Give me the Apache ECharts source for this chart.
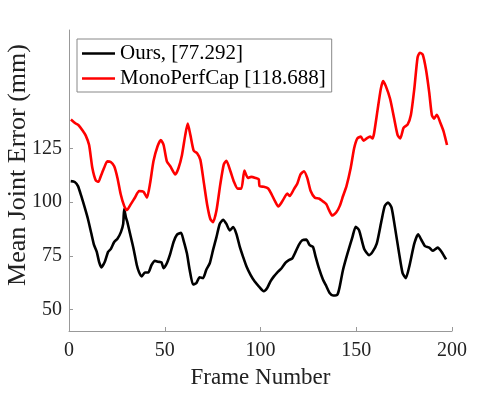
<!DOCTYPE html>
<html>
<head>
<meta charset="utf-8">
<script src="https://cdn.jsdelivr.net/npm/echarts@6/dist/echarts.min.js"></script>
<style>
  html, body { margin: 0; padding: 0; background: #fff; }
  #chart { width: 498px; height: 394px; }
</style>
</head>
<body>
<div id="chart"></div>
<script>
// legend labels
const seriesNames = ['Ours, [77.292]', 'MonoPerfCap [118.688]'];

// Ours (black)
const oursFrames = [0.9, 3, 4.7, 6.4, 8.2, 9.9, 11.7, 13.1, 14.5, 15.7, 16.9, 18.7, 20.4, 21.8, 23.6, 25.3, 27.1, 28.3, 28.8, 29.7,
  30.5, 31.9, 33.7, 35.4, 36.6, 38, 39.6, 41.4, 43.1, 44.9, 46.6, 48.3, 49.4, 51.1, 52.9, 54.6, 56.4, 58.5, 59.8, 61.6,
  63, 64.8, 66.5, 68.2, 70, 71.7, 73.5, 75.2, 77, 78.7, 80.5, 82.2, 83.9, 85.7, 87.4, 89.2, 90.9, 92.7, 94.8, 96.9,
  99.1, 101.7, 103.5, 105.2, 107, 108.7, 111, 113.1, 114.8, 116.6, 118.3, 120.1, 121.8, 123.9, 125.7, 127.4, 128.8, 130.5, 132.6, 134.4,
  136.1, 137.9, 140.2, 141.4, 143.1, 145.4, 148, 149.7, 151.5, 154.1, 156.7, 158.5, 160.7, 163.2, 164.9, 166.6, 168.4, 170.2, 172.4, 174.2,
  175.9, 177.7, 180.3, 182.3, 184.1, 185.9, 188.1, 189.9, 192.5, 194.6, 196.9];
const oursErr = [109.7, 109.3, 107.4, 102.8, 97.5, 92.1, 85.2, 79.9, 76.8, 72.2, 69.6, 72.2, 76.8, 78.1, 81.4, 82.9, 86, 89.8, 96.7, 92.9,
  90.6, 85.2, 78.3, 70.7, 67.3, 65.4, 67.2, 67.2, 70.7, 72.6, 72.2, 71.9, 69.2, 71.5, 76, 81.4, 84.8, 85.7, 82.2, 76,
  68.5, 61.6, 62.3, 65, 64.6, 68.5, 71.5, 77.6, 83.7, 89.8, 91.7, 89.8, 86.8, 88.3, 85.2, 79.1, 74.5, 70, 66.1, 63.1,
  60.8, 58.5, 60, 63.1, 65.4, 67.2, 69.2, 71.8, 73, 73.8, 76.8, 80.2, 82.2, 82.5, 79.9, 79.1, 74.5, 69.2, 63.9, 60.8,
  57.7, 56.5, 57, 60.8, 68.5, 76, 83.7, 88.5, 86.8, 78.3, 75.3, 76.8, 80.6, 91.4, 98.2, 99.8, 97.5, 88.3, 76, 66.9,
  64.6, 70, 80.6, 85, 82.2, 79.5, 78.8, 77.3, 78.8, 76.8, 73.3];

// MonoPerfCap (red)
const monoFrames = [1, 3.5, 5, 7, 8.7, 10.5, 12.2, 14, 15.4, 16.6, 18.3, 20, 21.8, 23.6, 25.3, 27, 28.8, 30.2, 32.3, 34.4,
  36.6, 38.9, 40.7, 42.4, 44.1, 46.2, 48, 49.4, 51.1, 52.9, 55.5, 57.2, 59, 60.7, 62, 63.4, 65.1, 66.9, 68.6, 70.3,
  72.1, 73.8, 75.2, 77, 79, 80.8, 82.2, 84.3, 86, 88.1, 90, 91.6, 93.4, 95.1, 97.4, 99.1, 99.5, 101.7, 104, 105.8,
  107.5, 109.3, 111.3, 114, 115.3, 117.4, 119.2, 120.9, 122.7, 124.4, 126.2, 128.4, 130.5, 132.3, 134.4, 135.8, 137.5, 139.6, 141.4, 143.1,
  144.9, 147.1, 148.9, 150.6, 152.4, 153.8, 155.5, 157.2, 158.5, 159.3, 161.1, 162.8, 164, 165.4, 167.7, 169.8, 171.6, 173, 174.7, 176.8,
  178.5, 180.3, 182, 183.2, 184.7, 186.4, 188.1, 189.5, 190.7, 192.1, 193.9, 195.6, 197.4];
const monoErr = [138.4, 136.5, 135.7, 133.4, 131, 126.5, 115.8, 110, 109.4, 112, 115.8, 118.9, 118.6, 116.6, 111.2, 103.6, 98.2, 96.2, 99, 102,
  105.1, 104.8, 102, 109, 118.9, 125.8, 128.8, 126.5, 118.9, 116.6, 112.8, 115.8, 121.9, 131.1, 136.5, 131.1, 123.9, 122.7, 119.6, 109.7,
  99, 92.1, 90.6, 96, 108.2, 117.4, 119.2, 114.3, 109.7, 106.2, 106.2, 114.6, 111.2, 111.7, 111.2, 110.5, 107.4, 107.1, 106.3, 103.6,
  100.5, 97.9, 100.2, 103.9, 102.8, 105.9, 108.5, 112.8, 114.3, 111.2, 105.1, 102, 101.6, 100.5, 99, 96.2, 93.7, 95.2, 98.2, 102.8,
  107.4, 115.8, 125, 129.6, 130.4, 128.5, 129.6, 130.4, 129.6, 131.9, 142.6, 152.5, 156.3, 154, 147.9, 138.8, 131.1, 129.6, 134.5, 136,
  140.3, 152.5, 167.1, 169.4, 168.6, 161.7, 151, 140.3, 138.8, 140.6, 136.9, 132.9, 126.5];

// axis ticks
const xTicks = [0, 50, 100, 150, 200];
const yTicks = [50, 75, 100, 125];

const fontFam = '"Liberation Serif", "DejaVu Serif", serif';

function pairs(xs, ys) {
  return xs.map((x, i) => [x, ys[i]]);
}

let chart = echarts.init(document.getElementById('chart'), null, {renderer: 'canvas'});
let option = {
  animation: false,
  backgroundColor: '#fff',
  grid: {left: 69, right: 46, top: 30, bottom: 60},
  legend: {
    orient: 'vertical',
    left: 77,
    top: 39,
    padding: [4, 6, 3, 5],
    itemGap: 4,
    itemWidth: 33,
    itemHeight: 2.5,
    icon: 'rect',
    borderColor: '#888',
    borderWidth: 1,
    backgroundColor: '#fff',
    textStyle: {fontFamily: fontFam, fontSize: 21, color: '#000', lineHeight: 21},
    data: seriesNames
  },
  xAxis: {
    type: 'value',
    min: 0,
    max: 200,
    interval: 50,
    name: 'Frame Number',
    nameLocation: 'middle',
    nameGap: 35,
    nameTextStyle: {fontFamily: fontFam, fontSize: 23, color: '#222'},
    axisLine: {lineStyle: {color: '#999', width: 1}},
    axisTick: {inside: true, length: 4, lineStyle: {color: '#999'}},
    axisLabel: {fontFamily: fontFam, fontSize: 20, color: '#222', margin: 10},
    splitLine: {show: false}
  },
  yAxis: {
    type: 'value',
    min: 40,
    max: 180,
    axisLine: {show: true, onZero: false, lineStyle: {color: '#999', width: 1}},
    axisTick: {show: true, inside: true, length: 4, customValues: yTicks, lineStyle: {color: '#999'}},
    axisLabel: {fontFamily: fontFam, fontSize: 20, color: '#222', margin: 7, customValues: yTicks},
    splitLine: {show: false}
  },
  graphic: [{
    type: 'text',
    x: 18,
    y: 165,
    rotation: Math.PI / 2,
    style: {
      text: 'Mean Joint Error (mm)',
      fontFamily: fontFam,
      fontSize: 26,
      fill: '#222',
      textAlign: 'center',
      textVerticalAlign: 'middle'
    }
  }],
  series: [
    {
      name: seriesNames[0],
      type: 'line',
      symbol: 'none',
      smooth: 0.2,
      color: '#000',
      lineStyle: {color: '#000', width: 2.6},
      data: pairs(oursFrames, oursErr)
    },
    {
      name: seriesNames[1],
      type: 'line',
      symbol: 'none',
      smooth: 0.2,
      color: '#ff0000',
      lineStyle: {color: '#ff0000', width: 2.6},
      data: pairs(monoFrames, monoErr)
    }
  ]
};
chart.setOption(option);
</script>
</body>
</html>
